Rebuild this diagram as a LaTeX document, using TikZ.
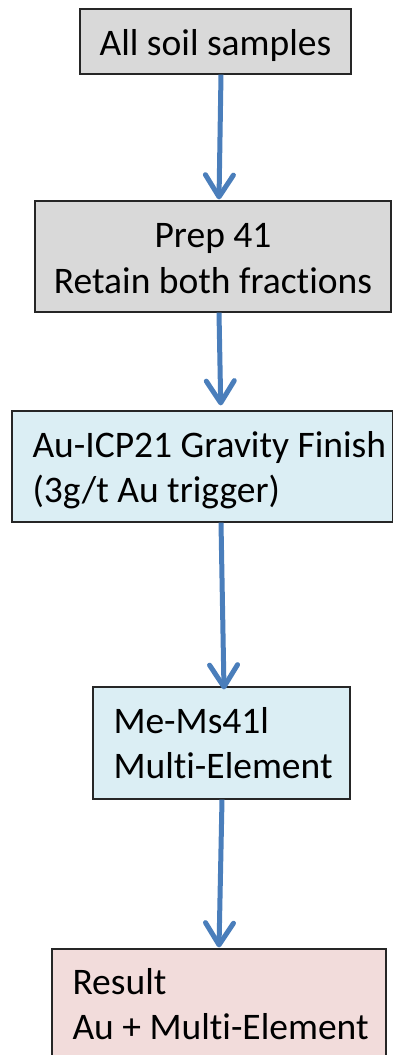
\documentclass[tikz,border=0pt]{standalone}
\usepackage{fontspec}
\setmainfont{Carlito}[Ligatures=NoCommon]
\usetikzlibrary{arrows.meta}
\definecolor{boxgray}{HTML}{D9D9D9}
\definecolor{boxblue}{HTML}{DBEEF4}
\definecolor{boxpink}{HTML}{F2DCDB}
\definecolor{arrowblue}{HTML}{4A7EBB}
\newcommand{\natsp}{\spaceskip=0pt\xspaceskip=0pt\relax}
\tikzset{
  stepbox/.style={draw=black!85, line width=1.2pt, rectangle, inner sep=0pt,
    font=\fontsize{37.5}{45.5}\selectfont},
  leftbox/.style={stepbox, align=left, inner xsep=20.5pt},
  flow/.style={draw=arrowblue, line width=5pt,
    -{Straight Barb[length=22pt, width=28pt, line width=5pt, round]}},
}
\begin{document}
\begin{tikzpicture}[x=1pt, y=-1pt]
\useasboundingbox (0,0) rectangle (393,1055);
\begin{scope}
\clip (0,0) rectangle (393,1055);
\node[stepbox, fill=boxgray, minimum width=271pt, minimum height=65pt, align=center,
  text height=27pt, text depth=0pt]
  (b1) at (215.5,41.5) {\natsp All soil samples};
\node[stepbox, fill=boxgray, minimum width=356pt, minimum height=111pt, align=center,
  text height=73pt, text depth=0pt]
  (b2) at (213,256.5) {\natsp Prep 41\\\natsp Retain both fractions};
\node[leftbox, fill=boxblue, text width=339.5pt, minimum height=111pt,
  text height=26pt, text depth=45pt]
  (b3) at (202.25,466.5) {\natsp\mbox{Au-ICP21 Gravity Finish}\\\mbox{(3g/t Au trigger)}};
\node[leftbox, fill=boxblue, text width=216pt, minimum height=112pt,
  text height=25pt, text depth=45pt]
  (b4) at (221.5,743) {\natsp\mbox{Me-Ms41l}\\\mbox{Multi-Element}};
\node[leftbox, fill=boxpink, text width=293pt, minimum height=113pt,
  text height=24pt, text depth=47pt]
  (b5) at (219,1005.5) {\natsp\mbox{Result}\\\mbox{Au + Multi-Element}};
\draw[flow] ([xshift=5.5pt]b1.south) -- ([xshift=6pt,yshift=1pt]b2.north);
\draw[flow] ([xshift=6pt]b2.south) -- ([xshift=18.5pt,yshift=5pt]b3.north);
\draw[flow] ([xshift=18.75pt]b3.south) -- ([xshift=2.5pt,yshift=-3pt]b4.north);
\draw[flow] ([xshift=0.5pt]b4.south) -- ([xshift=0pt,yshift=1pt]b5.north);
\end{scope}
\end{tikzpicture}
\end{document}
